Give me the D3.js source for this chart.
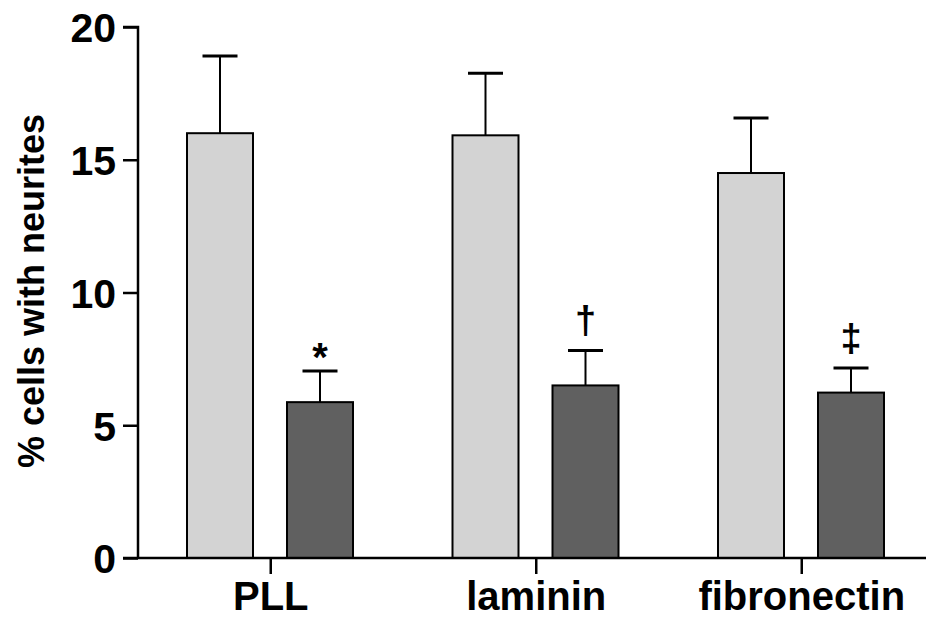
<!DOCTYPE html>
<html>
<head>
<meta charset="utf-8">
<script src="https://cdn.jsdelivr.net/npm/d3@7"></script>
<style>
  html, body { margin: 0; padding: 0; background: #fff; }
  svg { display: block; }
  text { font-family: "Liberation Sans", Arial, Helvetica, sans-serif; font-weight: bold; }
</style>
</head>
<body>
<svg id="chart" width="926" height="619"></svg>
<script>
// ---- data ----
const categories = ["PLL", "laminin", "fibronectin"];
const seriesNames = ["control", "treated"];
const controlValues = [16.0, 15.92, 14.5];
const controlErrors = [2.91, 2.34, 2.07];
const treatedValues = [5.87, 6.5, 6.23];
const treatedErrors = [1.17, 1.32, 0.93];
const markers = ["*", "\u2020", "\u2021"];
const yTicks = [0, 5, 10, 15, 20];
const yLabel = "% cells with neurites";

// ---- layout ----
const svg = d3.select("#chart");
const axisX = 138, axisY0 = 558, axisY1 = 27;
const y = d3.scaleLinear().domain([0, 20]).range([axisY0, axisY1]);
const x = d3.scaleBand().domain(categories).range([axisX, axisX + 3 * 265.5]).padding(0);
const xs = d3.scaleBand().domain(seriesNames).range([49, 215]).paddingInner(0.34).paddingOuter(0);
const fills = { control: "#d3d3d3", treated: "#606060" };

const rows = [];
categories.forEach((c, i) => {
  rows.push({ cat: c, s: "control", v: controlValues[i], e: controlErrors[i], m: "" });
  rows.push({ cat: c, s: "treated", v: treatedValues[i], e: treatedErrors[i], m: markers[i] });
});

// error bars (drawn behind bars)
const eb = svg.append("g");
rows.forEach(r => {
  const cx = x(r.cat) + xs(r.s) + xs.bandwidth() / 2;
  eb.append("line").attr("x1", cx).attr("x2", cx)
    .attr("y1", y(r.v)).attr("y2", y(r.v + r.e))
    .attr("stroke", "#000").attr("stroke-width", 2);
  eb.append("line").attr("x1", cx - 17.5).attr("x2", cx + 17.5)
    .attr("y1", y(r.v + r.e)).attr("y2", y(r.v + r.e))
    .attr("stroke", "#000").attr("stroke-width", 3);
  if (r.m) {
    eb.append("text").attr("x", cx).attr("y", y(r.v + r.e) - (r.m === "*" ? 0 : 17))
      .attr("text-anchor", "middle").attr("font-size", r.m === "*" ? 40 : 38)
      .attr("font-weight", r.m === "*" ? "bold" : "normal")
      .text(r.m);
  }
});

// bars
svg.append("g").selectAll("rect").data(rows).join("rect")
  .attr("x", d => x(d.cat) + xs(d.s))
  .attr("y", d => y(d.v))
  .attr("width", xs.bandwidth())
  .attr("height", d => y(0) - y(d.v))
  .attr("fill", d => fills[d.s])
  .attr("stroke", "#000").attr("stroke-width", 2);

// y axis
const yAxis = d3.axisLeft(y).tickValues(yTicks).tickSize(15).tickPadding(6).tickFormat(d3.format("d"));
const gy = svg.append("g").attr("transform", `translate(${axisX},0)`).call(yAxis);
gy.select(".domain").attr("stroke-width", 2.5).attr("d", `M-15,${axisY1}H0V${axisY0}`);
gy.selectAll(".tick line").attr("stroke-width", 2.5);
gy.selectAll(".tick text").attr("font-size", 41).attr("fill", "#000")
  .attr("font-family", "'Liberation Sans', Arial, sans-serif").attr("font-weight", "bold")
  .attr("x", -22).attr("dy", "0.36em");

// x axis
const xAxis = d3.axisBottom(x).tickSize(16).tickPadding(6);
const gx = svg.append("g").attr("transform", `translate(0,${axisY0})`).call(xAxis);
gx.select(".domain").attr("stroke-width", 2.5).attr("d", `M${axisX - 15},0H926`);
gx.selectAll(".tick line").attr("stroke-width", 2.5);
gx.selectAll(".tick text").attr("font-size", 40).attr("fill", "#000")
  .attr("font-family", "'Liberation Sans', Arial, sans-serif").attr("font-weight", "bold")
  .attr("dy", null).attr("y", 52);

// y label
svg.append("text")
  .attr("transform", `translate(44,291) rotate(-90)`)
  .attr("text-anchor", "middle").attr("font-size", 36)
  .text(yLabel);
</script>
</body>
</html>
